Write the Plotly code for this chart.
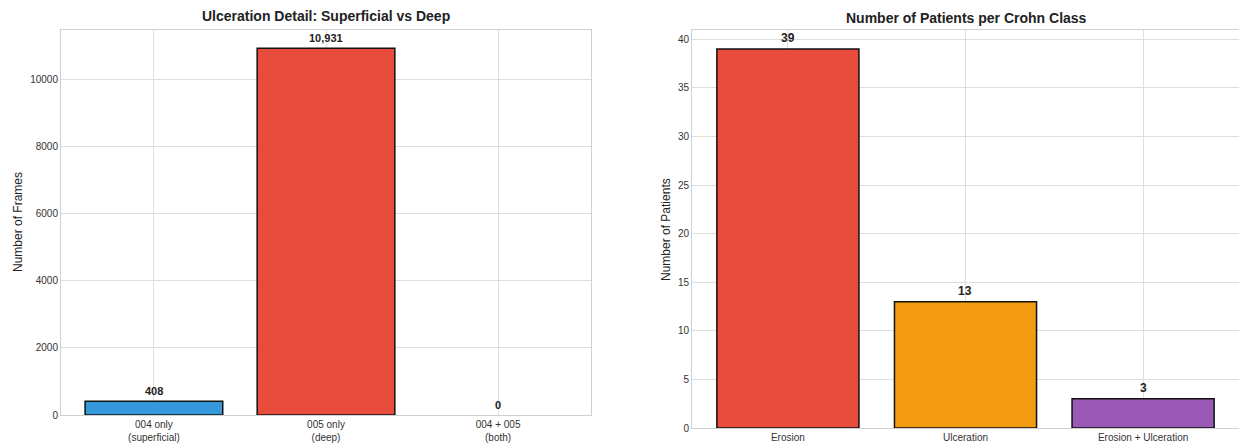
import plotly.graph_objects as go

# Left panel: ulceration detail (frame counts)
ulc_categories = ["004 only<br>(superficial)", "005 only<br>(deep)", "004 + 005<br>(both)"]
ulc_counts = [408, 10931, 0]
ulc_colors = ["#3498db", "#e74c3c", "#95a5a6"]

# Right panel: patients per Crohn class
crohn_categories = ["Erosion", "Ulceration", "Erosion + Ulceration"]
crohn_patients = [39, 13, 3]
crohn_colors = ["#e74c3c", "#f39c12", "#9b59b6"]

W, H = 1239, 443
FONT = "Liberation Sans, Arial, sans-serif"
GRID = "#dedede"
SPINE = "#d0d0d0"


def edge_widths(values):
    # zero-height bars get no outline
    return [1.5 if v > 0 else 0 for v in values]


fig = go.Figure()

fig.add_trace(go.Bar(
    x=list(range(len(ulc_counts))), y=ulc_counts, width=0.8,
    marker=dict(color=ulc_colors, line=dict(color="#111111", width=edge_widths(ulc_counts))),
    xaxis="x", yaxis="y", showlegend=False, hoverinfo="skip",
))
fig.add_trace(go.Bar(
    x=list(range(len(crohn_patients))), y=crohn_patients, width=0.8,
    marker=dict(color=crohn_colors, line=dict(color="#111111", width=edge_widths(crohn_patients))),
    xaxis="x2", yaxis="y2", showlegend=False, hoverinfo="skip",
))

annotations = []
for i, v in enumerate(ulc_counts):
    annotations.append(dict(x=i, y=v, xref="x", yref="y", text=f"<b>{v:,}</b>",
                            showarrow=False, yanchor="bottom", yshift=2,
                            font=dict(size=11, color="#222222", family=FONT)))
for i, v in enumerate(crohn_patients):
    annotations.append(dict(x=i, y=v, xref="x2", yref="y2", text=f"<b>{v}</b>",
                            showarrow=False, yanchor="bottom", yshift=2,
                            font=dict(size=12, color="#222222", family=FONT)))

# panel titles
annotations.append(dict(x=(61 + 591) / 2 / W, y=1 - 16 / H, xref="paper", yref="paper",
                        text="<b>Ulceration Detail: Superficial vs Deep</b>", showarrow=False,
                        xanchor="center", yanchor="middle",
                        font=dict(size=14, color="#222222", family=FONT)))
annotations.append(dict(x=(692 + 1240) / 2 / W, y=1 - 18 / H, xref="paper", yref="paper",
                        text="<b>Number of Patients per Crohn Class</b>", showarrow=False,
                        xanchor="center", yanchor="middle",
                        font=dict(size=14, color="#222222", family=FONT)))
# y-axis titles
annotations.append(dict(x=18 / W, y=1 - 222 / H, xref="paper", yref="paper",
                        text="Number of Frames", textangle=-90, showarrow=False,
                        xanchor="center", yanchor="middle",
                        font=dict(size=12, color="#222222", family=FONT)))
annotations.append(dict(x=666 / W, y=1 - 229 / H, xref="paper", yref="paper",
                        text="Number of Patients", textangle=-90, showarrow=False,
                        xanchor="center", yanchor="middle",
                        font=dict(size=12, color="#222222", family=FONT)))

axis_common = dict(showgrid=True, gridcolor=GRID, gridwidth=1, zeroline=False,
                   showline=True, linecolor=SPINE, linewidth=1, mirror=True,
                   automargin=False, ticks="",
                   tickfont=dict(size=10, color="#333333", family=FONT))

fig.update_layout(
    width=W, height=H,
    margin=dict(l=0, r=0, t=0, b=0),
    paper_bgcolor="white", plot_bgcolor="white",
    font=dict(family=FONT),
    xaxis=dict(domain=[61 / W, 591 / W], range=[-0.54, 2.54],
               tickvals=list(range(len(ulc_categories))), ticktext=ulc_categories,
               anchor="y", **axis_common),
    yaxis=dict(domain=[28 / H, 1 - 30 / H], range=[0, max(ulc_counts) * 1.05],
               tickvals=[0, 2000, 4000, 6000, 8000, 10000], tickformat="d",
               anchor="x", **axis_common),
    xaxis2=dict(domain=[692 / W, 1.0], range=[-0.54, 2.54],
                tickvals=list(range(len(crohn_categories))), ticktext=crohn_categories,
                anchor="y2", **axis_common),
    yaxis2=dict(domain=[15 / H, 1 - 30 / H], range=[0, max(crohn_patients) * 1.05],
                tickvals=[0, 5, 10, 15, 20, 25, 30, 35, 40],
                anchor="x2", **axis_common),
    annotations=annotations,
)

fig.write_html("out.html")
